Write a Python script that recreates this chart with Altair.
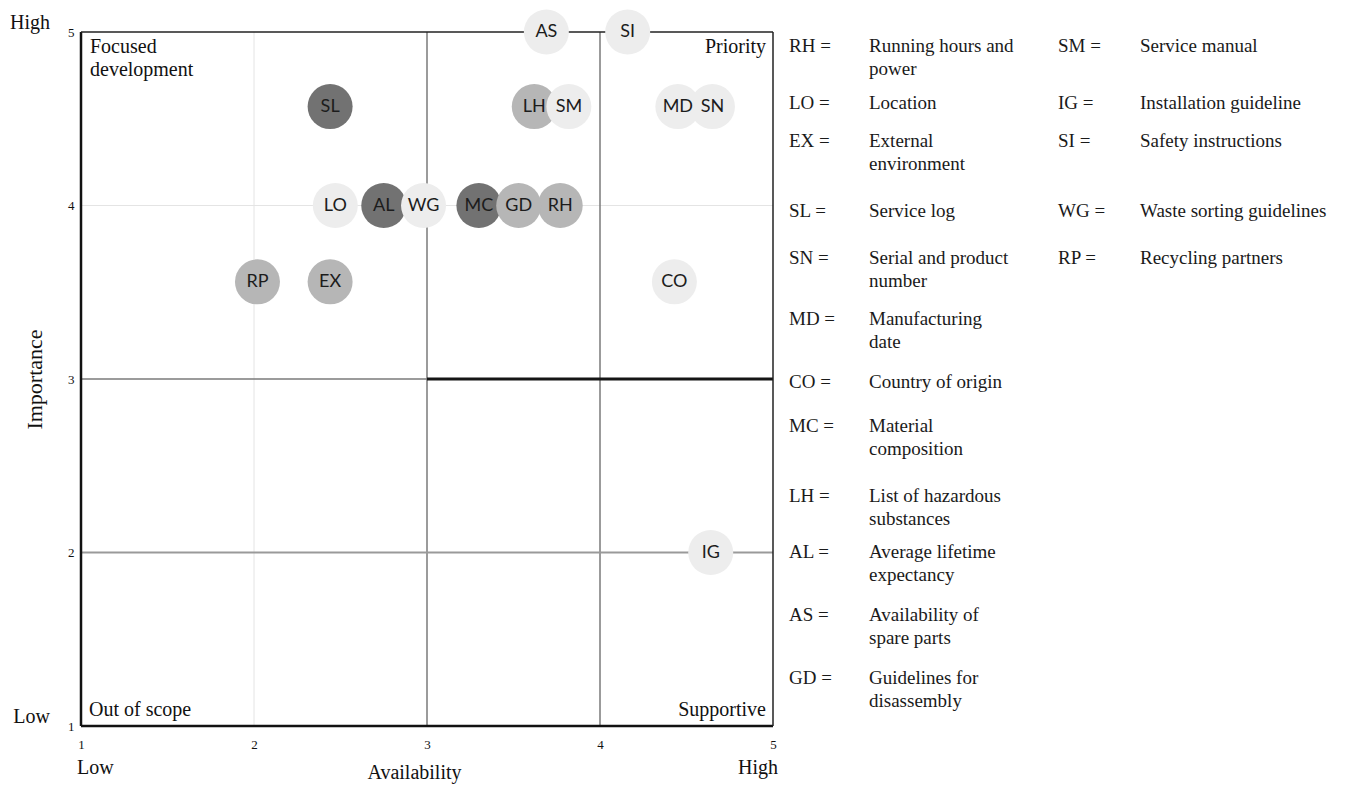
import altair as alt
import pandas as pd

# ---- bubble data ----
codes = ["RP", "EX", "SL", "AL", "LO", "WG", "MC", "RH", "GD", "LH", "SM", "AS", "SI", "MD", "SN", "CO", "IG"]
availability = [2.02, 2.44, 2.44, 2.75, 2.47, 2.98, 3.30, 3.77, 3.53, 3.62, 3.82, 3.69, 4.16, 4.45, 4.65, 4.43, 4.64]
importance = [3.56, 3.56, 4.57, 4.00, 4.00, 4.00, 4.00, 4.00, 4.00, 4.57, 4.57, 5.00, 5.00, 4.57, 4.57, 3.56, 2.00]
shade = ["medium", "medium", "dark", "dark", "light", "light", "dark", "medium", "medium",
         "medium", "light", "light", "light", "light", "light", "light", "light"]

# ---- grid / quadrant lines ----
line_x1 = [2, 3, 4, 1, 1, 3, 1, 1, 1, 1, 5]
line_x2 = [2, 3, 4, 5, 3, 5, 5, 1, 5, 5, 5]
line_y1 = [1, 1, 1, 4, 3, 3, 2, 1, 1, 5, 1]
line_y2 = [5, 5, 5, 4, 3, 3, 2, 5, 1, 5, 5]
line_kind = ["faint", "mid", "mid", "faint", "mid", "strong", "soft", "frame", "frame", "edge", "edge"]

# ---- quadrant labels ----
quad_text = ["Focused\ndevelopment", "Priority", "Out of scope", "Supportive"]
quad_x = [1, 5, 1, 5]
quad_y = [5, 5, 1, 1]

# ---- axis end labels ----
end_y_text = ["High", "Low"]
end_y_val = [5, 1]
end_x_text = ["Low", "High"]
end_x_val = [1, 5]

# ---- legend ----
leg1_code = ["RH =", "LO =", "EX =", "SL =", "SN =", "MD =", "CO =", "MC =", "LH =", "AL =", "AS =", "GD ="]
leg1_desc = ["Running hours and\npower", "Location", "External\nenvironment", "Service log",
             "Serial and product\nnumber", "Manufacturing\ndate", "Country of origin",
             "Material\ncomposition", "List of hazardous\nsubstances", "Average lifetime\nexpectancy",
             "Availability of\nspare parts", "Guidelines for\ndisassembly"]
leg2_code = ["SM =", "IG =", "SI =", "WG =", "RP ="]
leg2_desc = ["Service manual", "Installation guideline", "Safety instructions",
             "Waste sorting guidelines", "Recycling partners"]
# layout: first-line centre of each legend row, pixels below plot top
row_centre = [13, 70, 108, 178, 225, 286, 349, 393, 463, 519, 582, 645]

SERIF = "Liberation Serif"
SANS = "Lato"
LEG_FS = 19

bubbles = pd.DataFrame({"code": codes, "availability": availability,
                        "importance": importance, "shade": shade})
lines = pd.DataFrame({"x1": line_x1, "x2": line_x2, "y1": line_y1, "y2": line_y2, "kind": line_kind})
quads = pd.DataFrame({"t": quad_text, "x": quad_x, "y": quad_y})
leg1 = pd.DataFrame({"code": leg1_code, "desc": leg1_desc,
                     "ly": [c - 0.44 * LEG_FS for c in row_centre]})
leg2 = pd.DataFrame({"code": leg2_code, "desc": leg2_desc,
                     "ly": [c - 0.44 * LEG_FS for c in row_centre[:len(leg2_code)]]})

xs = alt.Scale(domain=[1, 5], nice=False, zero=False)
ys = alt.Scale(domain=[1, 5], nice=False, zero=False)

x_axis = alt.Axis(values=[1, 2, 3, 4, 5], format="d", grid=False, domain=False, ticks=False,
                  labelFont=SERIF, labelFontSize=13, labelPadding=12, labelColor="#111",
                  labelFlush=False,
                  title="Availability", titleFont=SERIF, titleFontSize=20,
                  titleFontWeight="normal", titleColor="#111", titleX=333, titleY=46,
                  titleBaseline="middle")
y_axis = alt.Axis(values=[1, 2, 3, 4, 5], format="d", grid=False, domain=False, ticks=False,
                  labelFont=SERIF, labelFontSize=13, labelPadding=7, labelColor="#111",
                  labelFlush=False,
                  title="Importance", titleFont=SERIF, titleFontSize=22,
                  titleFontWeight="normal", titleColor="#111", titleX=-47, titleY=347,
                  titleBaseline="middle")


def X(field):
    return alt.X(field, scale=xs, axis=x_axis)


def Y(field):
    return alt.Y(field, scale=ys, axis=y_axis)


# line styles: (colour, width)
line_styles = {
    "faint": ("#e4e4e4", 1),
    "mid": ("#7a7a7a", 1.5),
    "soft": ("#9a9a9a", 2),
    "strong": ("#151515", 3),
    "frame": ("#111111", 2.5),
    "edge": ("#222222", 1.5),
}

rule_layers = []
for kind, (col, w) in line_styles.items():
    rule_layers.append(
        alt.Chart(lines).mark_rule(color=col, strokeWidth=w).encode(
            x=X("x1:Q"), x2="x2:Q", y=Y("y1:Q"), y2="y2:Q",
        ).transform_filter(alt.datum.kind == kind)
    )

circles = alt.Chart(bubbles).mark_circle(size=2025, opacity=1).encode(
    x=X("availability:Q"),
    y=Y("importance:Q"),
    fill=alt.Fill("shade:N", scale=alt.Scale(domain=["dark", "medium", "light"],
                  range=["#727272", "#b6b6b6", "#ededed"]), legend=None),
)

labels = alt.Chart(bubbles).mark_text(font=SANS, fontSize=18, color="#1c1c1c",
                                      baseline="middle", align="center").encode(
    x=X("availability:Q"), y=Y("importance:Q"), text="code:N",
)


def quad_label(rows, align, baseline, dx, dy):
    return alt.Chart(quads.iloc[rows]).mark_text(
        font=SERIF, fontSize=20, align=align, baseline=baseline, dx=dx, dy=dy,
        lineBreak="\n", lineHeight=23, color="#111").encode(
        x=X("x:Q"), y=Y("y:Q"), text="t:N")


quad_tl = quad_label([0], "left", "top", 9, 5)
quad_tr = quad_label([1], "right", "top", -7, 5)
quad_bl = quad_label([2], "left", "bottom", 8, -6)
quad_br = quad_label([3], "right", "bottom", -7, -6)

end_y = alt.Chart(pd.DataFrame({"t": end_y_text, "v": end_y_val})).mark_text(
    font=SERIF, fontSize=20, align="right", baseline="middle", dy=-9, color="#111").encode(
    x=alt.value(-31), y=Y("v:Q"), text="t:N")
end_x_low = alt.Chart(pd.DataFrame({"t": end_x_text[:1], "v": end_x_val[:1]})).mark_text(
    font=SERIF, fontSize=20, align="left", baseline="middle", dx=-4, color="#111").encode(
    x=X("v:Q"), y=alt.value(736), text="t:N")
end_x_high = alt.Chart(pd.DataFrame({"t": end_x_text[1:], "v": end_x_val[1:]})).mark_text(
    font=SERIF, fontSize=20, align="right", baseline="middle", dx=5, color="#111").encode(
    x=X("v:Q"), y=alt.value(736), text="t:N")


def legend_text(df, field, xpix):
    return alt.Chart(df).mark_text(font=SERIF, fontSize=LEG_FS, align="left", baseline="top",
                                   lineBreak="\n", lineHeight=23, color="#1a1a1a").encode(
        x=alt.value(xpix), y=alt.Y("ly:Q", scale=None), text=f"{field}:N")


chart = alt.layer(
    *rule_layers, circles, labels, quad_tl, quad_tr, quad_bl, quad_br,
    end_y, end_x_low, end_x_high,
    legend_text(leg1, "code", 708), legend_text(leg1, "desc", 788),
    legend_text(leg2, "code", 977), legend_text(leg2, "desc", 1059),
).properties(
    width=692, height=694,
    autosize=alt.AutoSizeParams(type="none"),
    padding={"left": 73, "top": 24, "right": 586, "bottom": 59},
).configure_view(stroke=None)

chart.save("out.html", embed_options={"renderer": "svg", "actions": False})
